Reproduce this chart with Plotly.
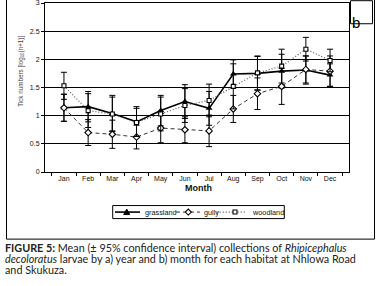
import plotly.graph_objects as go

months = ["Jan", "Feb", "Mar", "Apr", "May", "Jun", "Jul", "Aug", "Sep", "Oct", "Nov", "Dec"]
grassland = [1.14, 1.16, 1.04, 0.89, 1.09, 1.25, 1.13, 1.74, 1.75, 1.79, 1.81, 1.72]
grassland_ci = [0.24, 0.27, 0.32, 0.27, 0.27, 0.30, 0.30, 0.25, 0.30, 0.30, 0.25, 0.20]
gully = [1.14, 0.70, 0.67, 0.62, 0.78, 0.75, 0.73, 1.12, 1.39, 1.52, 1.82, 1.79]
gully_ci = [0.24, 0.23, 0.25, 0.21, 0.26, 0.23, 0.28, 0.24, 0.28, 0.32, 0.24, 0.27]
woodland = [1.53, 1.09, 1.03, 0.88, 1.03, 1.18, 1.27, 1.52, 1.76, 1.88, 2.18, 1.98]
woodland_ci = [0.24, 0.30, 0.30, 0.25, 0.30, 0.30, 0.29, 0.40, 0.30, 0.30, 0.21, 0.20]
y_ticks = [0, 0.5, 1, 1.5, 2, 2.5, 3]
series_names = ["grassland", "gully", "woodland"]

W, H = 380, 286
L, R, T, B = 45, 349, 3.3, 172.0


def px(x):
    return (x - L) / (R - L)


def py(y):
    return (B - y) / (B - T)


styles = {
    "grassland": dict(line=dict(color="black", width=1.6),
                      marker=dict(symbol="triangle-up", size=6, color="black")),
    "gully": dict(line=dict(color="#333333", width=1, dash="4px,3px"),
                  marker=dict(symbol="diamond", size=5, color="white", line=dict(width=1.1, color="black"))),
    "woodland": dict(line=dict(color="#555555", width=1.2, dash="1px,2px"),
                     marker=dict(symbol="square", size=4, color="white", line=dict(width=1.1, color="black"))),
}

fig = go.Figure()
for name, vals, ci in zip(series_names, [grassland, gully, woodland], [grassland_ci, gully_ci, woodland_ci]):
    fig.add_trace(go.Scatter(
        x=months, y=vals, name=name, mode="lines+markers", showlegend=False,
        error_y=dict(type="data", array=ci, color="black", thickness=1, width=3),
        **styles[name],
    ))

tickfont = dict(family="Liberation Sans", size=7, color="#111")
fig.update_layout(
    width=W, height=H,
    margin=dict(l=L, r=W - R, t=T, b=H - B, autoexpand=False),
    paper_bgcolor="white", plot_bgcolor="white",
    showlegend=False,
    xaxis=dict(
        type="category", tickson="boundaries", ticks="outside", ticklen=3,
        tickcolor="black", showline=True, linecolor="black", linewidth=1,
        mirror=True, showgrid=False, tickfont=tickfont,
    ),
    yaxis=dict(
        range=[0, 3], tickvals=y_ticks, ticktext=[f"{v:g}" for v in y_ticks],
        ticks="outside", ticklen=3, tickcolor="black", ticklabeloverflow="allow",
        showline=True, linecolor="black", linewidth=1, mirror=True,
        showgrid=True, gridcolor="black", gridwidth=1, zeroline=False,
        tickfont=tickfont,
    ),
)

# x-axis title
fig.add_annotation(text="<b>Month</b>", x=px(198), y=py(195), xref="paper", yref="paper",
                   showarrow=False, font=dict(family="Liberation Sans", size=9, color="#111"))

# y-axis title
fig.add_annotation(
    text="Tick numbers [log<sub>10</sub>(n+1)]", x=px(15), y=py(72), xref="paper", yref="paper",
    textangle=-90, showarrow=False, font=dict(family="Liberation Sans", size=6.3, color="#444"),
)

# custom legend
fig.add_shape(type="rect", xref="paper", yref="paper",
              x0=px(112.7), x1=px(284.3), y0=py(218.5), y1=py(205.5),
              line=dict(color="black", width=1), fillcolor="white")
leg_items = [
    ("grassland", 115, 140, 126.7, 142.7),
    ("gully", 176, 200, 188.3, 201.7),
    ("woodland", 216.7, 246.7, 235, 250),
]
ly = 212
for name, lx0, lx1, mx, tx in leg_items:
    st = styles[name]
    fig.add_shape(type="line", xref="paper", yref="paper",
                  x0=px(lx0), x1=px(lx1), y0=py(ly), y1=py(ly),
                  line=dict(color=st["line"]["color"], width=st["line"]["width"],
                            dash=st["line"].get("dash", "solid")))
    if name == "grassland":
        path = f"M{px(mx-3)},{py(ly+2.5)} L{px(mx+3)},{py(ly+2.5)} L{px(mx)},{py(ly-3)} Z"
        fig.add_shape(type="path", xref="paper", yref="paper", path=path,
                      line=dict(color="black", width=1), fillcolor="black")
    elif name == "gully":
        path = (f"M{px(mx-3)},{py(ly)} L{px(mx)},{py(ly-3)} L{px(mx+3)},{py(ly)} "
                f"L{px(mx)},{py(ly+3)} Z")
        fig.add_shape(type="path", xref="paper", yref="paper", path=path,
                      line=dict(color="black", width=1.1), fillcolor="white")
    else:
        fig.add_shape(type="rect", xref="paper", yref="paper",
                      x0=px(mx-2), x1=px(mx+2), y0=py(ly+2), y1=py(ly-2),
                      line=dict(color="black", width=1.1), fillcolor="white")
    fig.add_annotation(text=name, x=px(tx), y=py(ly), xref="paper", yref="paper",
                       xanchor="left", yanchor="middle", showarrow=False,
                       font=dict(family="Liberation Sans", size=7.3, color="#111"))

# outer frame
fig.add_shape(type="rect", xref="paper", yref="paper",
              x0=px(6.5), x1=px(374.5), y0=py(239), y1=py(-5),
              line=dict(color="black", width=1))
# panel label box
fig.add_shape(type="rect", xref="paper", yref="paper",
              x0=px(350.5), x1=px(372.5), y0=py(24), y1=py(1),
              line=dict(color="black", width=1), fillcolor="white")
fig.add_annotation(text="b", x=px(361.5), y=py(12.5), xref="paper", yref="paper",
                   showarrow=False, font=dict(family="Liberation Sans", size=15, color="black"))

# caption
cap_font = dict(family="Lato", size=10.8, color="#222")
lines = [
    "<b>FIGURE 5:</b> Mean (± 95% confidence interval) collections of <i>Rhipicephalus</i>",
    "<i>decoloratus</i> larvae by a) year and b) month for each habitat at Nhlowa Road",
    "and Skukuza.",
]
for i, ln in enumerate(lines):
    fig.add_annotation(text=ln, x=px(3), y=py(247 + 11 * i), xref="paper", yref="paper",
                       xanchor="left", yanchor="middle", showarrow=False, font=cap_font)

fig.write_html("out.html", config={"displayModeBar": False},
               post_script="document.body.style.margin='0';document.body.style.overflow='hidden';")
